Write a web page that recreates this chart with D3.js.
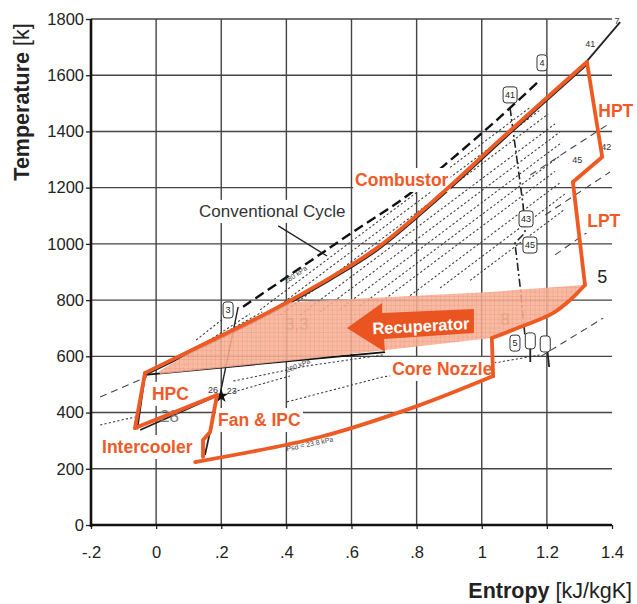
<!DOCTYPE html>
<html>
<head>
<meta charset="utf-8">
<script src="https://cdn.jsdelivr.net/npm/d3@7"></script>
<style>
  body { margin: 0; background: #fff; }
  svg { display: block; font-family: "Liberation Sans", Arial, Helvetica, sans-serif; }
</style>
</head>
<body>
<div id="chart"></div>
<script>
// T-s diagram, recuperated / intercooled cycle vs conventional cycle
// values are entropy s [kJ/kgK] and temperature T [K]

const xTicks = [-0.2, 0, 0.2, 0.4, 0.6, 0.8, 1.0, 1.2, 1.4];
const xTickLabels = ["-.2", "0", ".2", ".4", ".6", ".8", "1", "1.2", "1.4"];
const yTicks = [0, 200, 400, 600, 800, 1000, 1200, 1400, 1600, 1800];

// orange cycle, leg by leg
const fanIpc      = [[0.144, 242], [0.144, 302], [0.166, 331], [0.187, 462]];
const intercooler = [[0.187, 462], [-0.065, 345]];
const hpc         = [[-0.065, 345], [-0.034, 541]];
const combustor   = [[-0.034, 541], [0.135, 637], [0.310, 736], [0.442, 818], [0.534, 879],
                     [0.678, 985], [0.872, 1174], [1.056, 1370], [1.323, 1647]];
const hpt         = [[1.323, 1647], [1.370, 1309], [1.280, 1220]];
const lpt         = [[1.280, 1220], [1.317, 854]];
const recupHot    = [[1.317, 854], [1.271, 800], [1.219, 754], [1.118, 704], [1.031, 665]];
const coreDrop    = [[1.031, 665], [1.035, 530]];
const coreNozzle  = [[1.035, 530], [0.801, 423], [0.503, 313], [0.120, 224]];

// recuperator shaded area
const recupArea = [[0.010, 548], [0.135, 637], [0.310, 736], [0.400, 792], [1.025, 829], [1.311, 854],
                   [1.271, 800], [1.219, 754], [1.118, 704], [1.031, 665], [0.442, 588], [0.012, 537]];
// recuperator arrow outline
const recupArrow = [[0.586, 701], [0.694, 790], [0.694, 754], [0.976, 768],
                    [0.976, 683], [0.700, 662], [0.703, 615]];

// black lines of the scanned background diagram
const conventional   = [[0.267, 776], [0.442, 914], [0.595, 1035], [0.774, 1174], [0.912, 1306], [1.056, 1451], [1.179, 1583]];
const convCompressor = [[0.196, 462], [0.252, 776]];
const convTurbine    = [[1.087, 1483], [1.127, 1138], [1.133, 1040], [1.102, 1003], [1.118, 847], [1.133, 669]];
const newTop         = [[1.287, 1601], [1.425, 1789]];
const recupCold      = [[-0.034, 534], [0.442, 587], [0.703, 615]];
const blackSegs = [
  [[-0.034, 534], [-0.058, 340]],
  [[-0.049, 338], [0.172, 452]],
  [[0.150, 249], [0.166, 334]],
  [[1.149, 640], [1.149, 580]],
  [[1.200, 640], [1.207, 562]]
];
const dottedIsobars = [
  [[0.319, 765], [1.148, 1485]], [[0.350, 756], [1.179, 1476]], [[0.381, 747], [1.204, 1462]],
  [[0.442, 747], [1.225, 1427]], [[0.503, 758], [1.240, 1398]], [[0.565, 768], [1.246, 1361]],
  [[0.626, 779], [1.240, 1313]], [[0.703, 804], [1.225, 1258]], [[0.780, 816], [1.240, 1217]],
  [[0.872, 843], [1.256, 1178]], [[0.964, 870], [1.256, 1124]],
  [[0.123, 658], [0.232, 758]], [[0.150, 647], [0.288, 751]], [[0.181, 665], [0.326, 758]],
  [[0.237, 512], [0.464, 566], [0.697, 605]],
  [[0.237, 473], [0.411, 530]],
  [[0.402, 438], [0.697, 527], [1.056, 580], [1.179, 605]],
  [[-0.172, 356], [-0.065, 384]]
];
const dashedIsobars = [
  [[-0.172, 455], [-0.028, 527]],
  [[1.179, 598], [1.373, 736]],
  [[1.149, 1245], [1.385, 1423]],
  [[1.195, 1103], [1.394, 1256]],
  [[1.225, 961], [1.400, 1103]]
];
// station boxes of the conventional cycle
const stationBoxes = [
  { t: "3", s: 0.221, T: 765 }, { t: "4", s: 1.185, T: 1644 }, { t: "41", s: 1.087, T: 1530 },
  { t: "43", s: 1.136, T: 1089 }, { t: "45", s: 1.148, T: 996 }, { t: "5", s: 1.102, T: 647 },
  { t: "", s: 1.149, T: 655 }, { t: "", s: 1.195, T: 644 }
];
const smallMarks = [
  { t: "41", s: 1.333, T: 1700 }, { t: "42", s: 1.382, T: 1334 }, { t: "45", s: 1.293, T: 1288 },
  { t: "7", s: 1.415, T: 1782 }, { t: "26", s: 0.175, T: 470 }, { t: "23", s: 0.232, T: 466 }
];
const kpaNotes = [
  { t: "280 kPa", s: 0.402, T: 542, a: -22 },
  { t: "280 kPa", s: 0.400, T: 858, a: -34 },
  { t: "Psd = 23.8 kPa", s: 0.402, T: 262, a: -12 }
];
const greyNotes = [
  { t: "3,3", s: 0.396, T: 694 }, { t: "8", s: 1.057, T: 711 }, { t: "28", s: 0.012, T: 366 }
];
const stationFive = { t: "5", s: 1.355, T: 862 };
const orangeLabels = [
  { t: "Combustor", s: 0.611, T: 1206 }, { t: "HPT", s: 1.358, T: 1451 },
  { t: "LPT", s: 1.324, T: 1060 }, { t: "Core Nozzle", s: 0.725, T: 534 },
  { t: "HPC", s: -0.013, T: 445 }, { t: "Fan & IPC", s: 0.190, T: 352 },
  { t: "Intercooler", s: -0.166, T: 256 }
];
const convLabel = { t: "Conventional Cycle", s: 0.132, T: 1096 };
const convLeader = [[0.375, 1064], [0.525, 957]];

const W = 637, H = 604;
const ORANGE = "#EE5A24";

const x = d3.scaleLinear().domain([-0.2, 1.4]).range([91, 612]);
const y = d3.scaleLinear().domain([0, 1800]).range([525, 19]);

const svg = d3.select("#chart").append("svg").attr("width", W).attr("height", H);
svg.append("rect").attr("width", W).attr("height", H).attr("fill", "#fff");

const defs = svg.append("defs");
const pat = defs.append("pattern").attr("id", "gridFill")
  .attr("width", 4.5).attr("height", 4.5).attr("patternUnits", "userSpaceOnUse");
pat.append("rect").attr("width", 4.5).attr("height", 4.5).attr("fill", "#F6B196");
pat.append("path").attr("d", "M4.5 0V4.5M0 4.5H4.5").attr("stroke", "#E97F5C").attr("stroke-width", 0.6);

const line = d3.line().x(d => x(d[0])).y(d => y(d[1]));
const curved = d3.line().x(d => x(d[0])).y(d => y(d[1])).curve(d3.curveCatmullRom.alpha(0.5));

// grid
const grid = svg.append("g").attr("stroke", "#444").attr("stroke-width", 1.4);
grid.selectAll(".v").data(xTicks.filter(d => d > -0.2 && d < 1.4)).enter().append("line")
  .attr("x1", d => x(d)).attr("x2", d => x(d)).attr("y1", y(0)).attr("y2", y(1800));
grid.selectAll(".h").data(yTicks.filter(d => d > 0)).enter().append("line")
  .attr("x1", x(-0.2)).attr("x2", x(1.4)).attr("y1", d => y(d)).attr("y2", d => y(d));

// axes
const gx = svg.append("g").attr("transform", `translate(0,${y(0)})`)
  .call(d3.axisBottom(x).tickValues(xTicks).tickFormat((d, i) => xTickLabels[i]).tickSize(4).tickPadding(17));
const gy = svg.append("g").attr("transform", `translate(${x(-0.2)},0)`)
  .call(d3.axisLeft(y).tickValues(yTicks).tickFormat(d3.format("d")).tickSize(5).tickPadding(2));
[gx, gy].forEach(g => {
  g.select(".domain").remove();
  g.selectAll("text").style("font-size", "16.5px").attr("fill", "#222").style("font-family", "inherit");
  g.selectAll("line").attr("stroke", "#222").attr("stroke-width", 1.3);
});
svg.append("line").attr("x1", x(-0.2)).attr("x2", x(-0.2)).attr("y1", y(1800)).attr("y2", y(0) + 2)
  .attr("stroke", "#111").attr("stroke-width", 2.6);
svg.append("line").attr("x1", x(-0.2) - 1).attr("x2", x(1.4)).attr("y1", y(0)).attr("y2", y(0))
  .attr("stroke", "#111").attr("stroke-width", 2.6);

const yTitle = svg.append("text").attr("transform", "translate(28.5,102) rotate(-90)")
  .attr("text-anchor", "middle").style("font-size", "21.5px").attr("fill", "#222");
yTitle.append("tspan").attr("font-weight", "bold").text("Temperature");
yTitle.append("tspan").text(" [k]");
const xTitle = svg.append("text").attr("x", 632).attr("y", 598)
  .attr("text-anchor", "end").style("font-size", "21.5px").attr("fill", "#222");
xTitle.append("tspan").attr("font-weight", "bold").text("Entropy");
xTitle.append("tspan").text(" [kJ/kgK]");

// background scan lines
const bg = svg.append("g").attr("fill", "none");
bg.selectAll(".dot").data(dottedIsobars).enter().append("path")
  .attr("d", line).attr("stroke", "#3a3a3a").attr("stroke-width", 1.05).attr("stroke-dasharray", "2.2,2.2");
bg.selectAll(".dash").data(dashedIsobars).enter().append("path")
  .attr("d", line).attr("stroke", "#444").attr("stroke-width", 1.1).attr("stroke-dasharray", "7,5");
bg.append("path").attr("d", curved(conventional)).attr("stroke", "#111")
  .attr("stroke-width", 2.4).attr("stroke-dasharray", "10,5");
bg.append("path").attr("d", line(convCompressor)).attr("stroke", "#222").attr("stroke-width", 1.4);
bg.append("path").attr("d", line(convTurbine)).attr("stroke", "#222")
  .attr("stroke-width", 1.6).attr("stroke-dasharray", "8,3,2,3");
bg.append("path").attr("d", line(newTop)).attr("stroke", "#222").attr("stroke-width", 1.8);
bg.append("path").attr("d", line(recupCold)).attr("stroke", "#111").attr("stroke-width", 1.8);
bg.append("path").attr("d", curved(combustor.map(d => [d[0] + 0.004, d[1] - 6])))
  .attr("stroke", "#222").attr("stroke-width", 1.6);
bg.selectAll(".seg").data(blackSegs).enter().append("path")
  .attr("d", line).attr("stroke", "#222").attr("stroke-width", 1.8);
svg.append("path").attr("d", d3.symbol(d3.symbolStar, 60)())
  .attr("transform", `translate(${x(0.200)},${y(459)})`).attr("fill", "#111");

kpaNotes.forEach(n => {
  svg.append("text").attr("transform", `translate(${x(n.s)},${y(n.T)}) rotate(${n.a})`)
    .style("font-size", "7px").attr("fill", "#444").text(n.t);
});
smallMarks.forEach(n => {
  svg.append("text").attr("x", x(n.s)).attr("y", y(n.T)).attr("text-anchor", "middle")
    .style("font-size", "9px").attr("fill", "#333").text(n.t);
});
const boxes = svg.selectAll(".sbox").data(stationBoxes).enter().append("g")
  .attr("transform", d => `translate(${x(d.s)},${y(d.T)})`);
boxes.append("rect").attr("x", d => d.t.length > 1 ? -7 : -5).attr("y", -8)
  .attr("width", d => d.t.length > 1 ? 14 : 10).attr("height", 16).attr("rx", 3)
  .attr("fill", "#fff").attr("stroke", "#333").attr("stroke-width", 1);
boxes.append("text").attr("text-anchor", "middle").attr("dy", "0.35em")
  .style("font-size", "9px").attr("fill", "#222").text(d => d.t);
greyNotes.forEach(n => {
  svg.append("text").attr("x", x(n.s)).attr("y", y(n.T))
    .style("font-size", "17px").attr("fill", "#7a7a7a").text(n.t);
});
svg.append("text").attr("x", x(stationFive.s)).attr("y", y(stationFive.T))
  .style("font-size", "18px").attr("fill", "#222").text(stationFive.t);

// recuperator band
svg.append("path").attr("d", line(recupArea) + "Z")
  .attr("fill", "url(#gridFill)").attr("opacity", 0.88);

// white patches behind the labels, then the orange cycle, then the label text
const backLayer = svg.append("g");

const cyc = svg.append("g").attr("fill", "none").attr("stroke", ORANGE).attr("stroke-width", 3.8)
  .attr("stroke-linejoin", "round").attr("stroke-linecap", "round");
[fanIpc, intercooler, hpc, hpt, lpt, coreDrop].forEach(p => cyc.append("path").attr("d", line(p)));
[combustor, recupHot, coreNozzle].forEach(p => cyc.append("path").attr("d", curved(p)));

const textLayer = svg.append("g");
function addLabel(d, opts) {
  const t = textLayer.append("text").attr("x", x(d.s)).attr("y", y(d.T))
    .style("font-size", opts.size).attr("font-weight", opts.weight).attr("fill", opts.color).text(d.t);
  const b = t.node().getBBox();
  backLayer.append("rect").attr("x", b.x - 2).attr("y", b.y - 2)
    .attr("width", b.width + 4).attr("height", b.height + 4).attr("fill", "#fff");
}
orangeLabels.forEach(d => addLabel(d, { size: "17.5px", weight: "bold", color: "#F05A28" }));
addLabel(convLabel, { size: "17px", weight: "normal", color: "#333" });
svg.append("path").attr("d", line(convLeader)).attr("stroke", "#222").attr("stroke-width", 1.4);

// recuperator arrow
svg.append("path").attr("d", line(recupArrow) + "Z").attr("fill", "#EA5421");
svg.append("text").attr("transform", `translate(${x(0.813)},${y(708)}) rotate(-3)`)
  .attr("text-anchor", "middle").attr("dy", "0.35em").style("font-size", "16.5px")
  .attr("font-weight", "bold").attr("fill", "#fff").text("Recuperator");
</script>
</body>
</html>
